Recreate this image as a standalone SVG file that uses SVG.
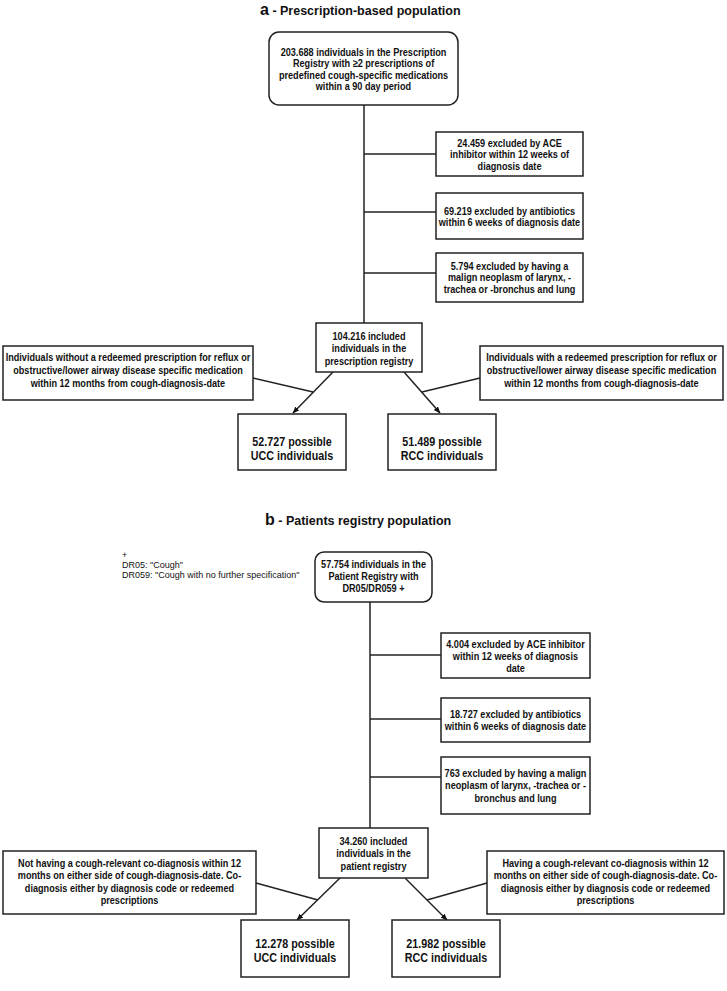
<svg xmlns="http://www.w3.org/2000/svg" width="727" height="991" viewBox="0 0 727 991">
<style>
.t{font-family:"Liberation Sans",Arial,sans-serif;font-weight:bold;font-size:11px;text-anchor:middle;fill:#111;transform-box:fill-box;transform-origin:center;transform:scaleX(0.83)}
.big{font-size:12.5px;transform:scaleX(0.86)}
.ttl{font-family:"Liberation Sans",Arial,sans-serif;font-weight:bold;font-size:12.5px;fill:#111}
.ttlL{font-size:16px}
.fn{font-family:"Liberation Sans",Arial,sans-serif;font-size:9px;fill:#111}
.box{fill:#fff;stroke:#222;stroke-width:1.5}
.ln{stroke:#222;stroke-width:1.5;fill:none}
</style>
<defs>
<marker id="ah" viewBox="0 0 10 10" refX="9" refY="5" markerWidth="7" markerHeight="7" orient="auto" markerUnits="userSpaceOnUse">
<path d="M0,1 L10,5 L0,9 Z" fill="#111"/>
</marker>
</defs>
<rect width="727" height="991" fill="#fff"/>

<text class="ttl" x="260" y="15"><tspan class="ttlL">a</tspan> - Prescription-based population</text>
<text class="ttl" x="265" y="525"><tspan class="ttlL">b</tspan> - Patients registry population</text>

<g id="connectors">
<line class="ln" x1="364" y1="105" x2="364" y2="323"/>
<line class="ln" x1="364" y1="154" x2="436" y2="154"/>
<line class="ln" x1="364" y1="212" x2="436" y2="212"/>
<line class="ln" x1="364" y1="273" x2="436" y2="273"/>
<line class="ln" x1="333" y1="372" x2="293" y2="413" marker-end="url(#ah)"/>
<line class="ln" x1="404" y1="372" x2="440" y2="413" marker-end="url(#ah)"/>
<line class="ln" x1="253" y1="378" x2="313" y2="392"/>
<line class="ln" x1="480" y1="378" x2="422" y2="392"/>
<line class="ln" x1="370" y1="602" x2="370" y2="828"/>
<line class="ln" x1="370" y1="655" x2="441" y2="655"/>
<line class="ln" x1="370" y1="719" x2="441" y2="719"/>
<line class="ln" x1="370" y1="777" x2="441" y2="777"/>
<line class="ln" x1="340" y1="878" x2="297" y2="920" marker-end="url(#ah)"/>
<line class="ln" x1="405" y1="878" x2="447" y2="920" marker-end="url(#ah)"/>
<line class="ln" x1="256" y1="883" x2="318" y2="900"/>
<line class="ln" x1="487" y1="883" x2="427" y2="900"/>
</g>

<g id="a-start">
<rect class="box" x="269" y="32" width="189" height="73" rx="10"/>
<text class="t" x="363.5" y="56">203.688 individuals in the Prescription</text>
<text class="t" x="363.5" y="67.5">Registry with ≥2 prescriptions of</text>
<text class="t" x="363.5" y="79">predefined cough-specific medications</text>
<text class="t" x="363.5" y="90.5">within a 90 day period</text>
</g>
<g id="a-excl1">
<rect class="box" x="436" y="132" width="147" height="44"/>
<text class="t" x="509.5" y="147">24.459 excluded by ACE</text>
<text class="t" x="509.5" y="158.5">inhibitor within 12 weeks of</text>
<text class="t" x="509.5" y="170">diagnosis date</text>
</g>
<g id="a-excl2">
<rect class="box" x="436" y="193" width="147" height="46"/>
<text class="t" x="509.5" y="215">69.219 excluded by antibiotics</text>
<text class="t" x="509.5" y="226.5">within 6 weeks of diagnosis date</text>
</g>
<g id="a-excl3">
<rect class="box" x="436" y="253" width="147" height="49"/>
<text class="t" x="509.5" y="270">5.794 excluded by having a</text>
<text class="t" x="509.5" y="281.5">malign neoplasm of larynx, -</text>
<text class="t" x="509.5" y="293">trachea or -bronchus and lung</text>
</g>
<g id="a-included">
<rect class="box" x="316" y="323" width="106" height="49"/>
<text class="t" x="369" y="340">104.216 included</text>
<text class="t" x="369" y="352.5">individuals in the</text>
<text class="t" x="369" y="365">prescription registry</text>
</g>
<g id="a-left">
<rect class="box" x="3" y="346" width="250" height="54"/>
<text class="t" x="128" y="361">Individuals without a redeemed prescription for reflux or</text>
<text class="t" x="128" y="374">obstructive/lower airway disease specific medication</text>
<text class="t" x="128" y="387">within 12 months from cough-diagnosis-date</text>
</g>
<g id="a-right">
<rect class="box" x="480" y="346" width="243" height="54"/>
<text class="t" x="601.5" y="361">Individuals with a redeemed prescription for reflux or</text>
<text class="t" x="601.5" y="374">obstructive/lower airway disease specific medication</text>
<text class="t" x="601.5" y="387">within 12 months from cough-diagnosis-date</text>
</g>
<g id="a-ucc">
<rect class="box" x="238" y="414" width="108" height="56"/>
<text class="t big" x="292" y="446">52.727 possible</text>
<text class="t big" x="292" y="460">UCC individuals</text>
</g>
<g id="a-rcc">
<rect class="box" x="388" y="414" width="108" height="56"/>
<text class="t big" x="442" y="446">51.489 possible</text>
<text class="t big" x="442" y="460">RCC individuals</text>
</g>

<g id="b-footnote">
<text class="fn" x="122" y="558">+</text>
<text class="fn" x="122" y="568">DR05: "Cough"</text>
<text class="fn" x="122" y="578">DR059: "Cough with no further specification"</text>
</g>
<g id="b-start">
<rect class="box" x="315" y="552" width="117" height="50" rx="9"/>
<text class="t" x="373.5" y="568">57.754 individuals in the</text>
<text class="t" x="373.5" y="580">Patient Registry with</text>
<text class="t" x="373.5" y="592">DR05/DR059 +</text>
</g>
<g id="b-excl1">
<rect class="box" x="441" y="633" width="149" height="45"/>
<text class="t" x="515.5" y="648">4.004 excluded by ACE inhibitor</text>
<text class="t" x="515.5" y="660">within 12 weeks of diagnosis</text>
<text class="t" x="515.5" y="672">date</text>
</g>
<g id="b-excl2">
<rect class="box" x="441" y="698" width="149" height="44"/>
<text class="t" x="515.5" y="718">18.727 excluded by antibiotics</text>
<text class="t" x="515.5" y="730">within 6 weeks of diagnosis date</text>
</g>
<g id="b-excl3">
<rect class="box" x="441" y="757" width="149" height="57"/>
<text class="t" x="515.5" y="777">763 excluded by having a malign</text>
<text class="t" x="515.5" y="789.5">neoplasm of larynx, -trachea or -</text>
<text class="t" x="515.5" y="802">bronchus and lung</text>
</g>
<g id="b-included">
<rect class="box" x="319" y="828" width="109" height="50"/>
<text class="t" x="373.5" y="845">34.260 included</text>
<text class="t" x="373.5" y="857.5">individuals in the</text>
<text class="t" x="373.5" y="870">patient registry</text>
</g>
<g id="b-left">
<rect class="box" x="3" y="851" width="253" height="63"/>
<text class="t" x="129.5" y="867">Not having a cough-relevant co-diagnosis within 12</text>
<text class="t" x="129.5" y="879.5">months on either side of cough-diagnosis-date. Co-</text>
<text class="t" x="129.5" y="892">diagnosis either by diagnosis code or redeemed</text>
<text class="t" x="129.5" y="904.5">prescriptions</text>
</g>
<g id="b-right">
<rect class="box" x="487" y="851" width="237" height="63"/>
<text class="t" x="605.5" y="867">Having a cough-relevant co-diagnosis within 12</text>
<text class="t" x="605.5" y="879.5">months on either side of cough-diagnosis-date. Co-</text>
<text class="t" x="605.5" y="892">diagnosis either by diagnosis code or redeemed</text>
<text class="t" x="605.5" y="904.5">prescriptions</text>
</g>
<g id="b-ucc">
<rect class="box" x="241" y="920" width="108" height="57"/>
<text class="t big" x="295" y="948">12.278 possible</text>
<text class="t big" x="295" y="962">UCC individuals</text>
</g>
<g id="b-rcc">
<rect class="box" x="392" y="920" width="108" height="57"/>
<text class="t big" x="446" y="948">21.982 possible</text>
<text class="t big" x="446" y="962">RCC individuals</text>
</g>
</svg>
